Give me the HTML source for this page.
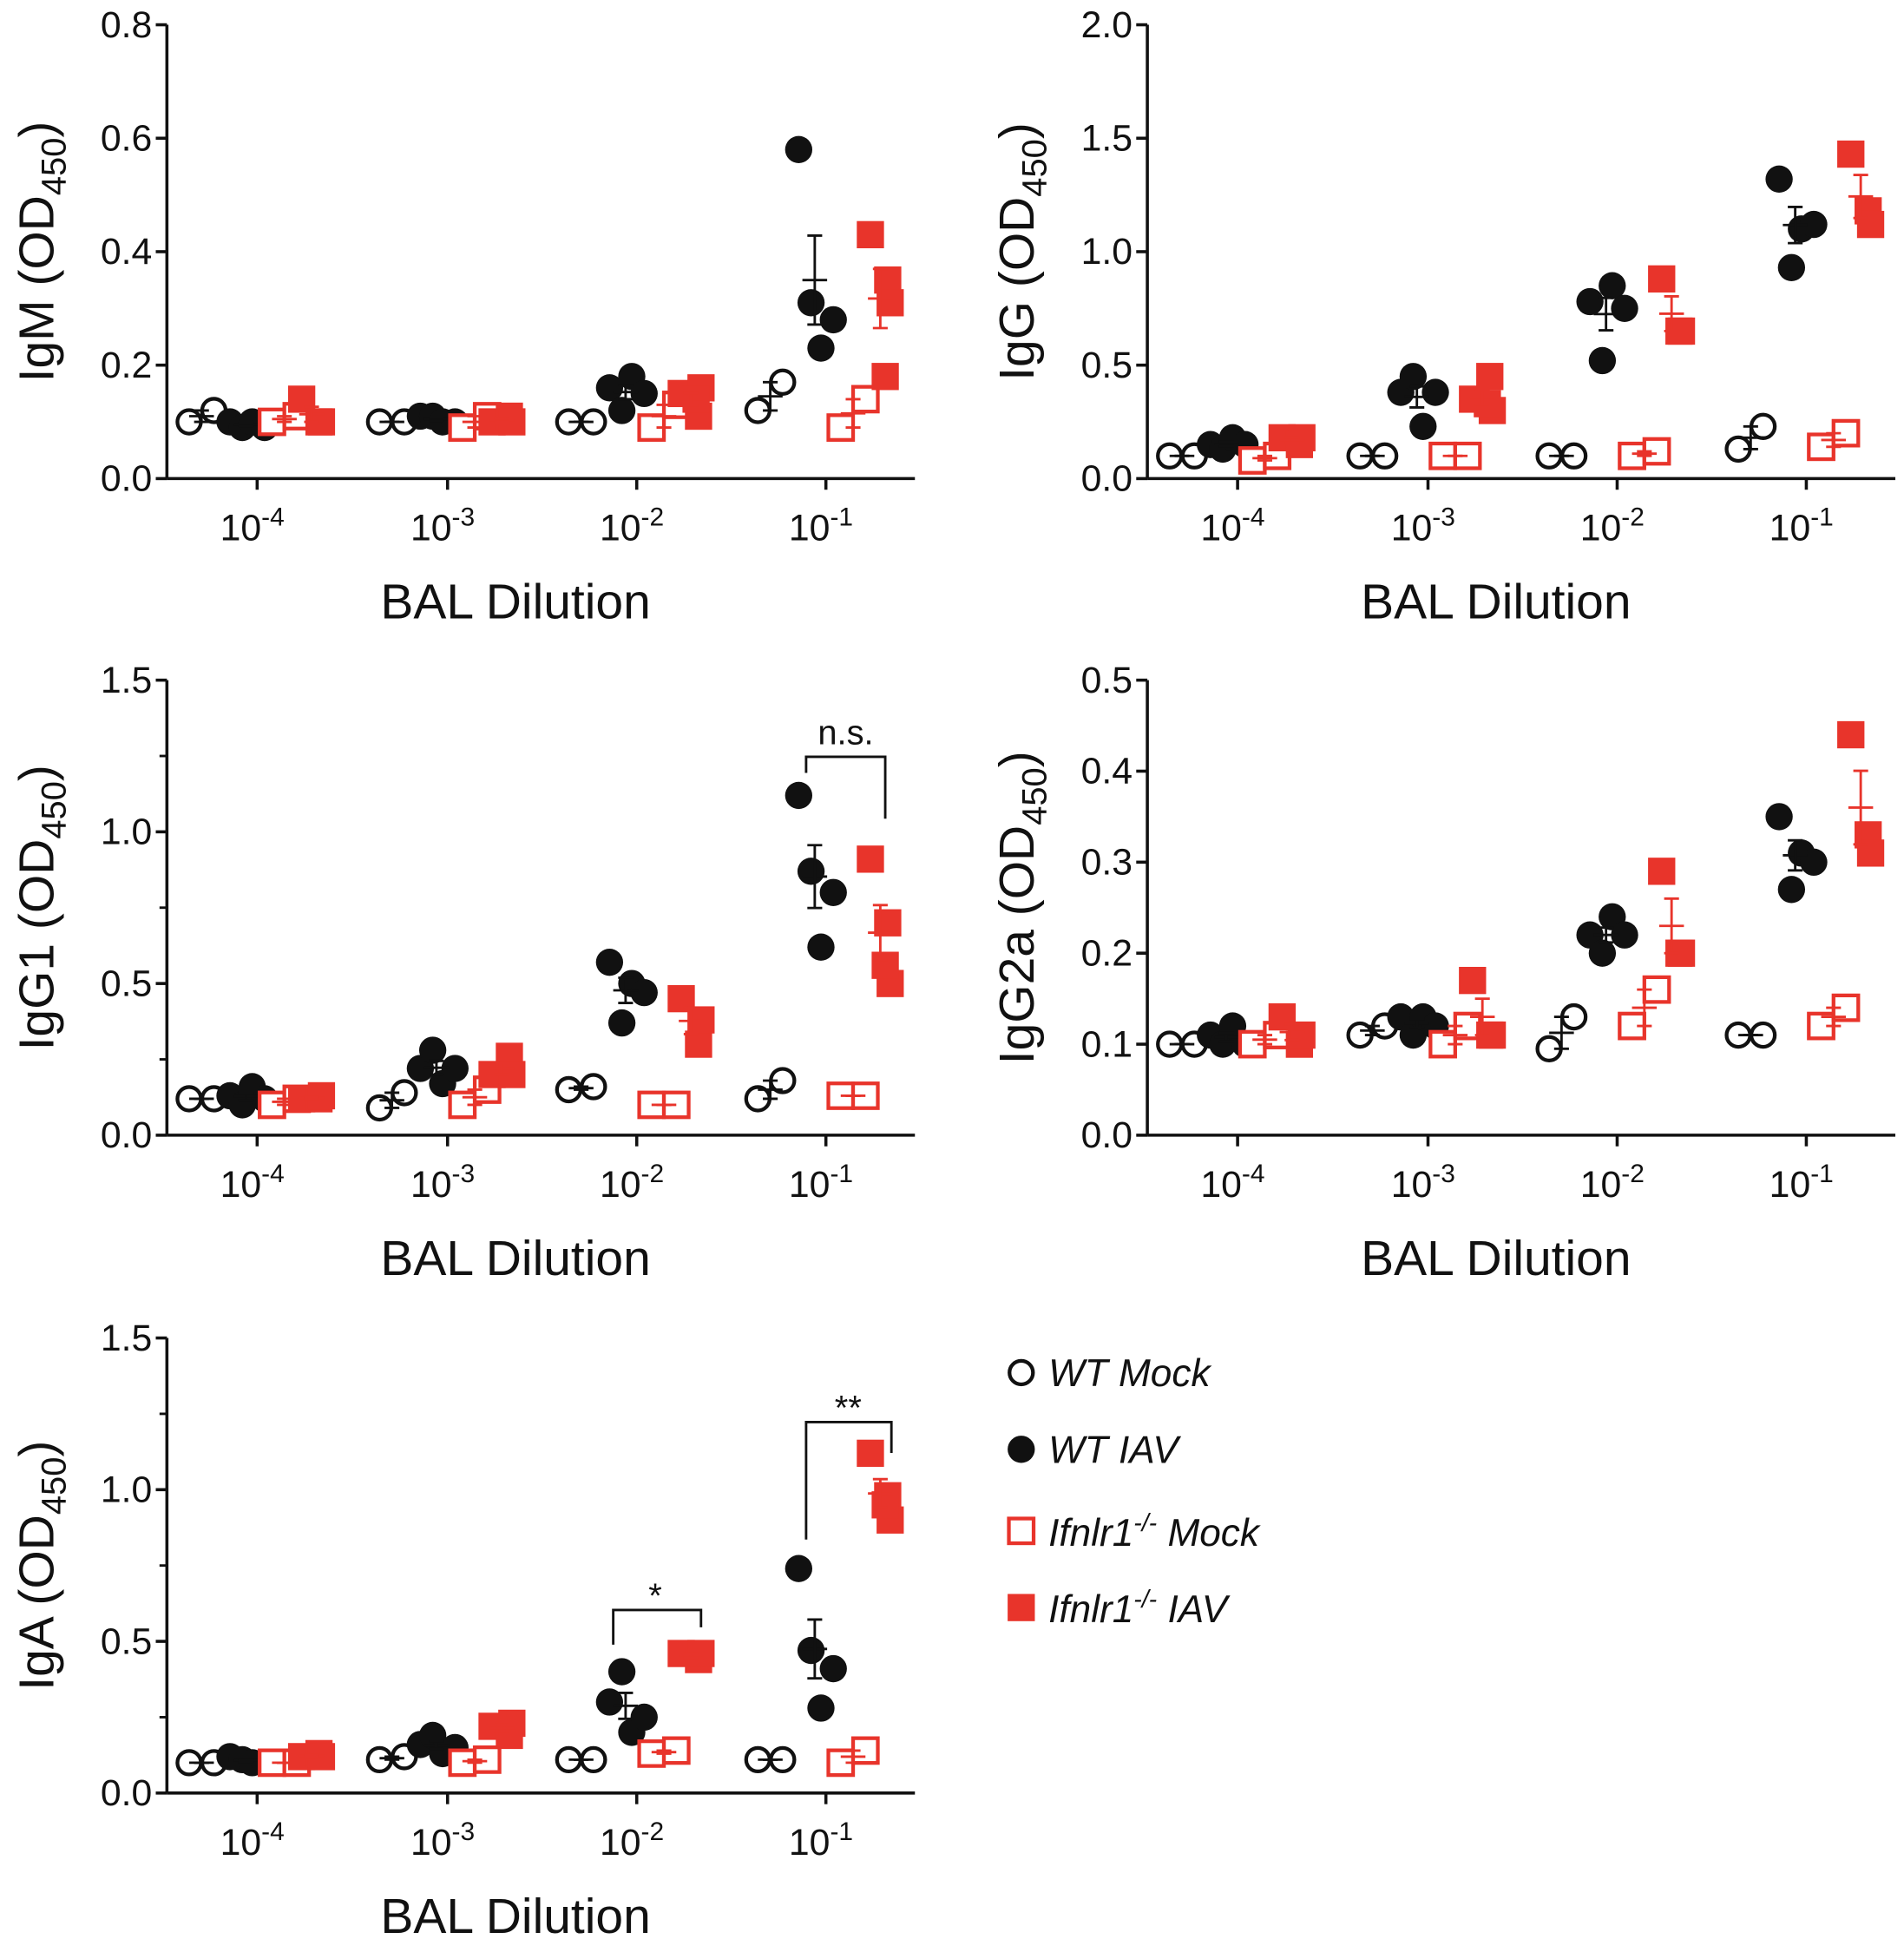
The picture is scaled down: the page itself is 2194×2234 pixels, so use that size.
<!DOCTYPE html>
<html><head><meta charset="utf-8"><style>
html,body{margin:0;padding:0;background:#fff}
svg{display:block}
text{font-family:"Liberation Sans",sans-serif;fill:#111}
.tk{font-family:"Liberation Sans Narrow","Liberation Sans",sans-serif;font-size:30px}
.ttl{font-size:40px}
.lg{font-size:31px;font-style:italic}
</style></head><body>
<svg id="s" width="2194" height="2234" viewBox="0 0 1540 1568" xmlns="http://www.w3.org/2000/svg"></svg>
<script>
const R="#e8342b";
let out="";
const panels=[
 {x0:135,top:20,bot:387,max:0.8,ticks:[0,0.2,0.4,0.6,0.8],lab:"IgM",minor:0,
  d:[[[.10,.12],[.10,.09,.10,.09],[.10,.11],[.14,.10,.10]],
     [[.10,.10],[.11,.11,.10,.10],[.09,.11],[.10,.11,.10]],
     [[.10,.10],[.16,.12,.18,.15],[.09,.13],[.15,.11,.16,.14]],
     [[.12,.17],[.58,.31,.23,.28],[.09,.14],[.43,.35,.31,.18]]]},
 {x0:928,top:20,bot:387,max:2.0,ticks:[0,0.5,1.0,1.5,2.0],lab:"IgG",minor:0,
  d:[[[.1,.1],[.15,.13,.18,.15],[.08,.1],[.18,.15,.18]],
     [[.1,.1],[.38,.45,.23,.38],[.1,.1],[.35,.45,.3,.33]],
     [[.1,.1],[.78,.52,.85,.75],[.1,.12],[.88,.65,.65]],
     [[.13,.23],[1.32,.93,1.1,1.12],[.14,.2],[1.43,1.18,1.12]]]},
 {x0:135,top:550,bot:918,max:1.5,ticks:[0,0.5,1.0,1.5],lab:"IgG1",minor:.25,
  d:[[[.12,.12],[.13,.1,.16,.12],[.1,.12],[.12,.12,.13]],
     [[.09,.14],[.22,.28,.17,.22],[.1,.15],[.2,.26,.2]],
     [[.15,.16],[.57,.37,.5,.47],[.1,.1],[.45,.3,.38]],
     [[.12,.18],[1.12,.87,.62,.8],[.13,.13],[.91,.7,.5,.56]]]},
 {x0:928,top:550,bot:918,max:0.5,ticks:[0,0.1,0.2,0.3,0.4,0.5],lab:"IgG2a",minor:0,
  d:[[[.1,.1],[.11,.1,.12,.1],[.1,.11],[.13,.1,.11]],
     [[.11,.12],[.13,.11,.13,.12],[.1,.12],[.17,.11,.11]],
     [[.095,.13],[.22,.2,.24,.22],[.12,.16],[.29,.2,.2]],
     [[.11,.11],[.35,.27,.31,.3],[.12,.14],[.44,.33,.31]]]},
 {x0:135,top:1082,bot:1450,max:1.5,ticks:[0,0.5,1.0,1.5],lab:"IgA",minor:.25,
  d:[[[.1,.1],[.12,.11,.1,.1],[.1,.1],[.12,.13,.12]],
     [[.11,.12],[.16,.19,.13,.15],[.1,.11],[.22,.19,.23]],
     [[.11,.11],[.3,.4,.2,.25],[.13,.14],[.46,.44,.46]],
     [[.11,.11],[.74,.47,.28,.41],[.1,.14],[1.12,.98,.9,.95]]]}
];
const offs=[[-55,-35],[-22,-12,-4,6],[12,32],[36,50,52,48]];
const cen=[-45,-9,22,44];
function sem(a){const m=a.reduce((s,v)=>s+v,0)/a.length;const sd=Math.sqrt(a.reduce((s,v)=>s+(v-m)*(v-m),0)/(a.length-1||1));return [m,sd/Math.sqrt(a.length)];}
panels.forEach(p=>{
 const X=p.x0,W=605,y=v=>p.bot-(v/p.max)*(p.bot-p.top);
 out+=`<line x1="${X}" y1="${p.top}" x2="${X}" y2="${p.bot}" stroke="#111" stroke-width="2.5"/>`;
 out+=`<line x1="${X}" y1="${p.bot}" x2="${X+W}" y2="${p.bot}" stroke="#111" stroke-width="2.5"/>`;
 p.ticks.forEach(t=>{const yy=y(t);out+=`<line x1="${X-9}" y1="${yy}" x2="${X}" y2="${yy}" stroke="#111" stroke-width="2.5"/><text class="tk" x="${X-12}" y="${yy+10}" text-anchor="end">${t.toFixed(1)}</text>`;});
 if(p.minor){for(let t=p.minor;t<p.max;t+=0.5){out+=`<line x1="${X-6}" y1="${y(t)}" x2="${X}" y2="${y(t)}" stroke="#111" stroke-width="2"/>`;}}
 const txs=[X+73,X+227,X+380,X+533];
 const ex=["-4","-3","-2","-1"];
 txs.forEach((tx,i)=>{out+=`<line x1="${tx}" y1="${p.bot}" x2="${tx}" y2="${p.bot+9}" stroke="#111" stroke-width="2.5"/><text class="tk" x="${tx-4}" y="${p.bot+50}" text-anchor="middle">10<tspan dy="-12" font-size="21">${ex[i]}</tspan></text>`;});
 out+=`<text class="ttl" x="${X+282}" y="${p.bot+113}" text-anchor="middle">BAL Dilution</text>`;
 const cy=(p.top+p.bot)/2;
 out+=`<text class="ttl" transform="translate(${X-92},${cy}) rotate(-90)" text-anchor="middle">${p.lab} (OD<tspan dy="10" font-size="28">450</tspan><tspan dy="-10">)</tspan></text>`;
 p.d.forEach((grp,i)=>{const tx=txs[i];
  grp.forEach((vals,g)=>{const col=g<2?"#111":R;
   vals.forEach((v,k)=>{const px=tx+offs[g][k],py=y(v);
    if(g==0)out+=`<circle cx="${px}" cy="${py}" r="9.5" fill="#fff" stroke="#111" stroke-width="3"/>`;
    else if(g==1)out+=`<circle cx="${px}" cy="${py}" r="11" fill="#111"/>`;
    else if(g==2)out+=`<rect x="${px-10}" y="${py-10}" width="20" height="20" fill="#fff" stroke="${R}" stroke-width="3"/>`;
    else out+=`<rect x="${px-11}" y="${py-11}" width="22" height="22" fill="${R}"/>`;});
   const [m,s]=sem(vals),cx=tx+cen[g];
   out+=`<line x1="${cx-10}" y1="${y(m)}" x2="${cx+10}" y2="${y(m)}" stroke="${col}" stroke-width="2"/><line x1="${cx}" y1="${y(m-s)}" x2="${cx}" y2="${y(m+s)}" stroke="${col}" stroke-width="2"/><line x1="${cx-6}" y1="${y(m+s)}" x2="${cx+6}" y2="${y(m+s)}" stroke="${col}" stroke-width="2"/><line x1="${cx-6}" y1="${y(m-s)}" x2="${cx+6}" y2="${y(m-s)}" stroke="${col}" stroke-width="2"/>`;
  });});
});
out+=`<polyline points="652,625 652,612 716,612 716,662" fill="none" stroke="#111" stroke-width="2"/><text x="684" y="602" text-anchor="middle" font-size="28">n.s.</text>`;
out+=`<polyline points="496,1330 496,1302 567,1302 567,1316" fill="none" stroke="#111" stroke-width="2"/><text x="530" y="1300" text-anchor="middle" font-size="28">*</text>`;
out+=`<polyline points="652,1245 652,1150 721,1150 721,1175" fill="none" stroke="#111" stroke-width="2"/><text x="686" y="1148" text-anchor="middle" font-size="28">**</text>`;
out+=`<circle cx="826" cy="1110" r="9.5" fill="#fff" stroke="#111" stroke-width="3"/><text class="lg" x="848" y="1121">WT Mock</text>`;
out+=`<circle cx="826" cy="1172" r="11" fill="#111"/><text class="lg" x="848" y="1183">WT IAV</text>`;
out+=`<rect x="816" y="1228" width="20" height="20" fill="#fff" stroke="${R}" stroke-width="3"/><text class="lg" x="848" y="1250">Ifnlr1<tspan dy="-12" font-size="20">-/-</tspan><tspan dy="12"> Mock</tspan></text>`;
out+=`<rect x="815" y="1289" width="22" height="22" fill="${R}"/><text class="lg" x="848" y="1312">Ifnlr1<tspan dy="-12" font-size="20">-/-</tspan><tspan dy="12"> IAV</tspan></text>`;
document.getElementById("s").innerHTML=out;
</script>
</body></html>
